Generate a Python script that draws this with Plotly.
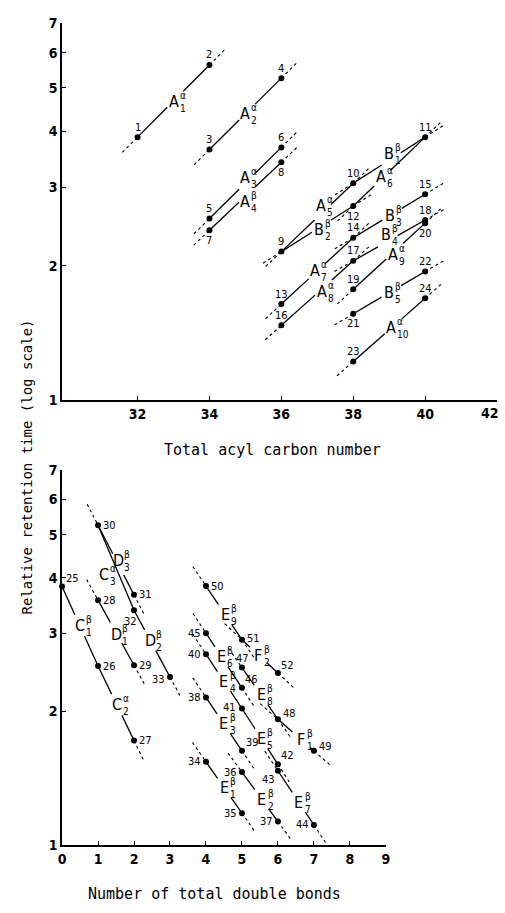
import math
import plotly.graph_objects as go

# ---------------- DATA ----------------
# Top panel: relative retention time vs total acyl carbon number
top_ids = list(range(1, 25))
top_carbon = [32, 34, 34, 36, 34, 36, 34, 36, 36, 38, 40, 38,
              36, 38, 40, 36, 38, 40, 38, 40, 38, 40, 38, 40]
top_rt = [3.88, 5.63, 3.64, 5.26, 2.55, 3.68, 2.40, 3.41, 2.15, 3.06, 3.88, 2.72,
          1.64, 2.31, 2.89, 1.47, 2.05, 2.53, 1.77, 2.49, 1.56, 1.94, 1.22, 1.69]

top_seg_from = [1, 3, 5, 7, 9, 9, 10, 12, 13, 16, 14, 17, 19, 21, 23]
top_seg_to = [2, 4, 6, 8, 10, 12, 11, 11, 14, 17, 15, 18, 20, 22, 24]
top_seg_letter = ["A", "A", "A", "A", "A", "B", "B", "A", "A", "A", "B", "B", "A", "B", "A"]
top_seg_sup = ["α", "α", "α", "β", "α", "β", "β", "α", "α", "α", "β", "β", "α", "β", "α"]
top_seg_sub = ["1", "2", "3", "4", "5", "2", "1", "6", "7", "8", "3", "4", "9", "5", "10"]

# Bottom panel: relative retention time vs number of total double bonds
bot_ids = list(range(25, 53))
bot_db = [0, 1, 2, 1, 2, 1, 2, 2, 3, 4, 5, 5, 6, 4,
          5, 4, 5, 6, 6, 7, 4, 5, 5, 6, 7, 4, 5, 6]
bot_rt = [3.82, 2.53, 1.72, 3.56, 2.54, 5.25, 3.66, 3.38, 2.39, 1.54, 1.18, 1.46, 1.13, 2.15,
          1.63, 2.69, 2.03, 1.52, 1.47, 1.11, 3.00, 2.26, 2.51, 1.92, 1.63, 3.83, 2.90, 2.44]

bot_seg_from = [25, 26, 28, 30, 30, 32, 34, 36, 38, 40, 41, 43, 45, 47, 48, 50, 51]
bot_seg_to = [26, 27, 29, 32, 31, 33, 35, 37, 39, 41, 42, 44, 46, 48, 49, 51, 52]
bot_seg_letter = ["C", "C", "D", "C", "D", "D", "E", "E", "E", "E", "E", "E", "E", "E", "F", "E", "F"]
bot_seg_sup = ["β", "α", "β", "α", "β", "β", "β", "β", "β", "β", "β", "β", "β", "β", "β", "β", "β"]
bot_seg_sub = ["1", "2", "1", "3", "3", "2", "1", "2", "3", "4", "5", "7", "6", "8", "1", "9", "2"]

top_xticks = [32, 34, 36, 38, 40, 42]
bot_xticks = [0, 1, 2, 3, 4, 5, 6, 7, 8, 9]
y_ticks = [1, 2, 3, 4, 5, 6, 7]

# ---------------- STYLE / LAYOUT ----------------
W, H = 505, 913
TOP_XDOM = [59 / W, 501 / W]
TOP_XRANGE = [29.9, 42]
TOP_YDOM = [1 - 399 / H, 1 - 15 / H]
BOT_XDOM = [59 / W, 388 / W]
BOT_XRANGE = [0, 9]
BOT_YDOM = [1 - 852 / H, 1 - 470 / H]
YRANGE = [0, math.log10(7)]

# label position along each segment (fraction), extra pixel shifts, dashed ends
top_lab_t = [0.5, 0.5, 0.5, 0.5, 0.55, 0.53, 0.5, 0.38, 0.47, 0.56, 0.51, 0.45, 0.55, 0.5, 0.53]
top_lab_shift = {2: (0, 5), 3: (0, -5), 4: (0, 8), 5: (0, -2), 6: (0, 7), 7: (0, 3),
                 8: (0, 2), 9: (0, -2), 11: (0, 8), 12: (0, -2)}
top_dash = [(True, True)] * len(top_seg_from)
bot_lab_t = [0.49, 0.52, 0.5, 0.58, 0.56, 0.45, 0.51, 0.55, 0.49, 0.5, 0.54, 0.58, 0.43, 0.53, 0.65, 0.53, 0.46]
bot_lab_shift = {2: (0, -2), 3: (-15, 0), 4: (0, 4)}
bot_no_gap = {3}
bot_dash = [(False, False), (False, True), (True, True), (False, False), (True, True), (False, True),
            (True, True), (True, True), (True, True), (True, False), (False, True), (True, True),
            (True, True), (True, True), (True, True), (True, True), (True, True)]

top_num_below = {7, 8, 12, 20, 21}
bot_num_pos = {25: ("left", 2, 8), 26: ("left", 3, 0), 27: ("left", 3, 0), 28: ("left", 3, 0),
               29: ("left", 3, 0), 30: ("left", 3, 0), 31: ("left", 3, 0), 32: ("center", -4, -11),
               33: ("right", -3, -2), 34: ("right", -3, 0), 35: ("right", -3, 0), 36: ("right", -3, 0),
               37: ("right", -3, 0), 38: ("right", -3, 0), 39: ("left", 2, 8), 40: ("right", -3, 0),
               41: ("right", -4, 1), 42: ("left", 1, 9), 43: ("right", -1, -9), 44: ("right", -3, 0),
               45: ("right", -3, 0), 46: ("left", 1, 8), 47: ("center", 1, 9), 48: ("left", 3, 6),
               49: ("left", 3, 4), 50: ("left", 3, 0), 51: ("left", 3, 1), 52: ("left", 1, 8)}

FAM = "Liberation Sans Narrow, DejaVu Sans Condensed, DejaVu Sans"
NUM_FONT = dict(family=FAM, size=11, color="black")
LET_FONT = dict(family=FAM, size=16, color="black")
SS_FONT = dict(family=FAM, size=10, color="black")
TICK_FONT = dict(family=FAM, size=14, color="black", weight="bold")
TITLE_FONT = dict(family="DejaVu Sans Mono", size=15, color="black")


def scale(xdom, xrange, ydom):
    sx = (xdom[1] - xdom[0]) * W / (xrange[1] - xrange[0])
    sy = (ydom[1] - ydom[0]) * H / (YRANGE[1] - YRANGE[0])
    return sx, sy


def interp(x1, y1, x2, y2, t):
    l1, l2 = math.log10(y1), math.log10(y2)
    return x1 + t * (x2 - x1), 10 ** (l1 + t * (l2 - l1))


def build_panel(ids, xs, ys, sfrom, sto, letters, sups, subs, lab_t, dashes, sc,
                gap_before, gap_after, ext_px, xref, yref, lab_shift=None, no_gap=None):
    lab_shift = lab_shift or {}
    no_gap = no_gap or set()
    sx, sy = sc
    pos = {i: (x, y) for i, x, y in zip(ids, xs, ys)}
    solid_x, solid_y, dash_x, dash_y = [], [], [], []
    anns = []
    for k, (a, b) in enumerate(zip(sfrom, sto)):
        x1, y1 = pos[a]
        x2, y2 = pos[b]
        plen = math.hypot((x2 - x1) * sx, (math.log10(y2) - math.log10(y1)) * sy)
        t = lab_t[k]
        if k in no_gap:
            pts = [(0, 1)]
        else:
            pts = [(0, t - gap_before / plen), (t + gap_after / plen, 1)]
        for ta, tb in pts:
            xa, ya = interp(x1, y1, x2, y2, ta)
            xb, yb = interp(x1, y1, x2, y2, tb)
            solid_x += [xa, xb, None]
            solid_y += [ya, yb, None]
        e = ext_px / plen
        ds, de = dashes[k]
        if ds:
            xa, ya = interp(x1, y1, x2, y2, -e)
            dash_x += [xa, x1, None]
            dash_y += [ya, y1, None]
        if de:
            xb, yb = interp(x1, y1, x2, y2, 1 + e)
            dash_x += [x2, xb, None]
            dash_y += [y2, yb, None]
        lx, ly = interp(x1, y1, x2, y2, t)
        dx, dy = lab_shift.get(k, (0, 0))
        anns.append(dict(x=lx, y=math.log10(ly), xref=xref, yref=yref, text=letters[k],
                         showarrow=False, font=LET_FONT, xanchor="center", yanchor="middle",
                         xshift=dx, yshift=dy))
        anns.append(dict(x=lx, y=math.log10(ly), xref=xref, yref=yref, text=sups[k],
                         showarrow=False, font=SS_FONT, xanchor="left", yanchor="middle",
                         xshift=dx + 4, yshift=dy + 6))
        anns.append(dict(x=lx, y=math.log10(ly), xref=xref, yref=yref, text=subs[k],
                         showarrow=False, font=SS_FONT, xanchor="left", yanchor="middle",
                         xshift=dx + 4, yshift=dy - 7))
    return solid_x, solid_y, dash_x, dash_y, anns


fig = go.Figure()
annotations = []

top_sc = scale(TOP_XDOM, TOP_XRANGE, TOP_YDOM)
bot_sc = scale(BOT_XDOM, BOT_XRANGE, BOT_YDOM)

panels = [
    (top_ids, top_carbon, top_rt, top_seg_from, top_seg_to, top_seg_letter, top_seg_sup, top_seg_sub,
     top_lab_t, top_dash, top_sc, 9, 14, 22, "x", "y", top_lab_shift, set()),
    (bot_ids, bot_db, bot_rt, bot_seg_from, bot_seg_to, bot_seg_letter, bot_seg_sup, bot_seg_sub,
     bot_lab_t, bot_dash, bot_sc, 12, 12, 24, "x2", "y2", bot_lab_shift, bot_no_gap),
]

for (ids, xs, ys, sf, st, le, su, sb, lt, ds, sc, g1, g2, ext, xr, yr, lsh, ng) in panels:
    sxs, sys_, dxs, dys, anns = build_panel(ids, xs, ys, sf, st, le, su, sb, lt, ds, sc, g1, g2, ext,
                                            xr, yr, lsh, ng)
    annotations += anns
    fig.add_trace(go.Scatter(x=dxs, y=dys, mode="lines", xaxis=xr, yaxis=yr, hoverinfo="skip",
                             line=dict(color="black", width=1.1, dash="3px,3px"), showlegend=False,
                             cliponaxis=False))
    fig.add_trace(go.Scatter(x=sxs, y=sys_, mode="lines", xaxis=xr, yaxis=yr, hoverinfo="skip",
                             line=dict(color="black", width=1.3), showlegend=False, cliponaxis=False))
    fig.add_trace(go.Scatter(x=xs, y=ys, mode="markers", xaxis=xr, yaxis=yr, text=[str(i) for i in ids],
                             marker=dict(color="black", size=6), showlegend=False, cliponaxis=False))

# point number labels
for i, x, y in zip(top_ids, top_carbon, top_rt):
    annotations.append(dict(x=x, y=math.log10(y), xref="x", yref="y", text=str(i), showarrow=False,
                            font=NUM_FONT, xanchor="center", yanchor="middle",
                            yshift=-10 if i in top_num_below else 10))
for i, x, y in zip(bot_ids, bot_db, bot_rt):
    xa, xs_, ys_ = bot_num_pos[i]
    annotations.append(dict(x=x, y=math.log10(y), xref="x2", yref="y2", text=str(i), showarrow=False,
                            font=NUM_FONT, xanchor=xa, yanchor="middle", xshift=xs_, yshift=ys_))

# last top tick label sits at the page edge: drawn as a text kept inside the page
top_ticktext = [str(v) for v in top_xticks[:-1]] + [""]
annotations.append(dict(x=1, y=TOP_YDOM[0], xref="paper", yref="paper", showarrow=False,
                        text=str(top_xticks[-1]), font=TICK_FONT, xanchor="right", yanchor="top",
                        yshift=-3))

# axis titles
annotations.append(dict(x=23 / W, y=1 - 467 / H, xref="paper", yref="paper", showarrow=False,
                        text="Relative retention time (log scale)", textangle=-90,
                        font=dict(family="DejaVu Sans Mono", size=14, color="black"),
                        xanchor="center", yanchor="middle"))
annotations.append(dict(x=273 / W, y=1 - 450 / H, xref="paper", yref="paper", showarrow=False,
                        text="Total acyl carbon number", font=TITLE_FONT,
                        xanchor="center", yanchor="middle"))
annotations.append(dict(x=214 / W, y=1 - 902 / H, xref="paper", yref="paper", showarrow=False,
                        text="Number of total double bonds", font=TITLE_FONT,
                        xanchor="center", yanchor="middle"))

axis_common = dict(showline=True, linecolor="black", linewidth=1.5, ticks="inside", ticklen=4,
                   tickcolor="black", tickwidth=1, showgrid=False, zeroline=False, tickfont=TICK_FONT,
                   fixedrange=True)

fig.update_layout(
    width=W, height=H, margin=dict(l=0, r=0, t=0, b=0),
    paper_bgcolor="white", plot_bgcolor="white", showlegend=False,
    xaxis=dict(domain=TOP_XDOM, range=TOP_XRANGE, anchor="y", tickvals=top_xticks,
               ticktext=top_ticktext, **axis_common),
    yaxis=dict(domain=TOP_YDOM, type="log", range=YRANGE, anchor="x", tickvals=y_ticks,
               ticktext=[str(v) for v in y_ticks], **axis_common),
    xaxis2=dict(domain=BOT_XDOM, range=BOT_XRANGE, anchor="y2", tickvals=bot_xticks, **axis_common),
    yaxis2=dict(domain=BOT_YDOM, type="log", range=YRANGE, anchor="x2", tickvals=y_ticks,
                ticktext=[str(v) for v in y_ticks], **axis_common),
    annotations=annotations,
)

fig.write_html("out.html")
